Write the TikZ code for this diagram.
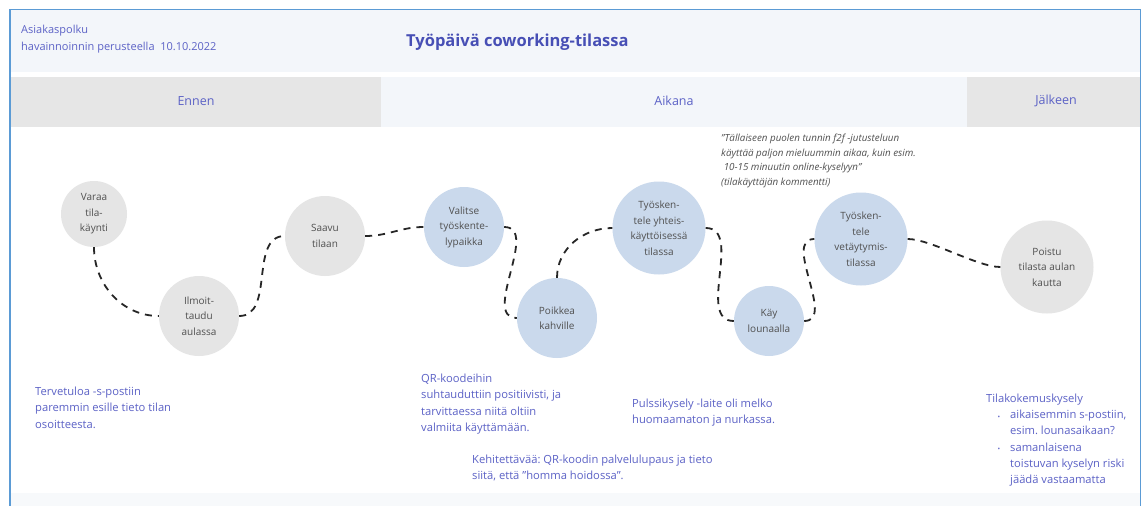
\documentclass[tikz,border=0pt]{standalone}
\usepackage{fontspec}
\setmainfont{Open Sans}
\usetikzlibrary{positioning}
\frenchspacing
\definecolor{frameblue}{HTML}{5B9BD5}
\definecolor{headfill}{HTML}{F3F6FA}
\definecolor{bandgray}{HTML}{E6E6E6}
\definecolor{stepgray}{HTML}{E5E5E5}
\definecolor{stepblue}{HTML}{CAD9EC}
\definecolor{inktext}{HTML}{5C62C6}
\definecolor{titleink}{HTML}{474FB5}
\definecolor{greytext}{HTML}{505050}
\def\bandtop{77}
\def\bandbot{127}

\begin{document}
\begin{tikzpicture}[x=1pt, y=-1pt,
    every node/.style={inner sep=0pt},
    vaihe/.style={circle, align=center, text=greytext,
        font=\fontsize{10}{15.5}\selectfont},
    ulko/.style={vaihe, fill=stepgray},
    sisa/.style={vaihe, fill=stepblue},
    polku/.style={draw=black!85, line width=1.8pt, dash pattern=on 7pt off 6pt},
    huomio/.style={anchor=north west, align=left, text=inktext,
        font=\fontsize{11.2}{16.2}\selectfont},
    vaihelab/.style={text=inktext, font=\fontsize{12.5}{14}\selectfont},
]
\useasboundingbox (0,0) rectangle (1146,506);

% ---------------------------------------------------------- page and bands
\fill[white] (0,0) rectangle (1146,506);
\fill[headfill] (10,10) rectangle (1140,72);
\fill[bandgray] (10,\bandtop) rectangle (381,\bandbot);
\fill[headfill] (381,\bandtop) rectangle (967,\bandbot);
\fill[bandgray] (967,\bandtop) rectangle (1140,\bandbot);
\fill[headfill!70!white] (10,493) rectangle (1140,506);
\draw[frameblue, line width=1.6pt] (10,506) -- (10,9.5) -- (1140.5,9.5) -- (1140.5,506);

% ---------------------------------------------------------- header
\node[anchor=north west, align=left, text=inktext,
      font=\fontsize{11}{17}\selectfont] (otsake) at (21,24.5)
    {Asiakaspolku\\havainnoinnin perusteella~ 10.10.2022};
\node[anchor=west, text=titleink, font=\fontsize{16.5}{18}\selectfont\bfseries]
    (nimi) at (406,42) {Työpäivä coworking-tilassa};

\node[vaihelab] (ennen)   at (196,101)  {Ennen};
\node[vaihelab] (aikana)  at (674,101)  {Aikana};
\node[vaihelab] (jalkeen) at (1056,101) {Jälkeen};

% ---------------------------------------------------------- steps
\node[ulko, minimum size=66pt] (varaa)   at (94,214)   {Varaa\\tila-\\käynti};
\node[ulko, minimum size=80pt] (ilmoit)  at (199,316)  {Ilmoit-\\taudu\\aulassa};
\node[ulko, minimum size=80pt] (saavu)   at (325,236)  {Saavu\\tilaan};
\node[sisa, minimum size=80pt] (valitse) at (464,227)  {Valitse\\työskente-\\lypaikka};
\node[sisa, minimum size=80pt] (kahvi)   at (557,318)  {Poikkea\\kahville};
\node[sisa, minimum size=93pt] (yhteis)  at (659,228)  {Työsken-\\tele yhteis-\\käyttöisessä\\tilassa};
\node[sisa, minimum size=70pt] (lounas)  at (769,321)  {Käy\\lounaalla};
\node[sisa, minimum size=93pt] (vetay)   at (861,239)  {Työsken-\\tele\\vetäytymis-\\tilassa};
\node[ulko, minimum size=93pt] (poistu)  at (1047,267) {Poistu\\tilasta aulan\\kautta};

% ---------------------------------------------------------- the path between steps
\draw[polku] (varaa.south) to[out=-90, in=180] (ilmoit.west);
\draw[polku] (ilmoit.east) to[out=0, in=180] (saavu.west);
\draw[polku] (saavu.east) to[out=0, in=180] (valitse.west);
\draw[polku] (valitse.east) to[out=0, in=180] (kahvi.west);
\draw[polku] (kahvi.north) to[out=90, in=180] (yhteis.west);
\draw[polku] (yhteis.east) to[out=0, in=180] (lounas.west);
\draw[polku] (lounas.east) to[out=0, in=180] (vetay.west);
\draw[polku] (vetay.east) to[out=0, in=180, looseness=0.6] (poistu.west);

% ---------------------------------------------------------- quote
\node[anchor=north west, align=left, text=greytext,
      font=\fontsize{9.8}{14.5}\selectfont\itshape] (lainaus) at (721,134)
    {”Tällaiseen puolen tunnin f2f -jutusteluun\\
     käyttää paljon mieluummin aikaa, kuin esim.\\
     \ 10-15 minuutin online-kyselyyn”\\
     (tilakäyttäjän kommentti)};

% ---------------------------------------------------------- observations
\node[huomio] (tervetuloa) at (35,387)
    {Tervetuloa -s-postiin\\paremmin esille tieto tilan\\osoitteesta.};
\node[huomio] (qr) at (421,374)
    {QR-koodeihin\\suhtauduttiin positiivisti, ja\\tarvittaessa niitä oltiin\\valmiita käyttämään.};
\node[huomio] (pulssi) at (632,399)
    {Pulssikysely -laite oli melko\\huomaamaton ja nurkassa.};
\node[huomio] (kehitys) at (472,455)
    {Kehitettävää: QR-koodin palvelulupaus ja tieto\\siitä, että \symbol{34}homma hoidossa\symbol{34}.};
\node[huomio] (kysely) at (986,394) {Tilakokemuskysely};
\node[huomio] (kohdat) at (1010,410)
    {aikaisemmin s-postiin,\\esim. lounasaikaan?\\samanlaisena\\toistuvan kyselyn riski\\jäädä vastaamatta};
\foreach \r in {0,2} {
  \node[text=inktext, font=\fontsize{7}{8}\selectfont, anchor=base]
      at (999, 419+\r*16.2) {•};
}

\end{tikzpicture}
\end{document}
